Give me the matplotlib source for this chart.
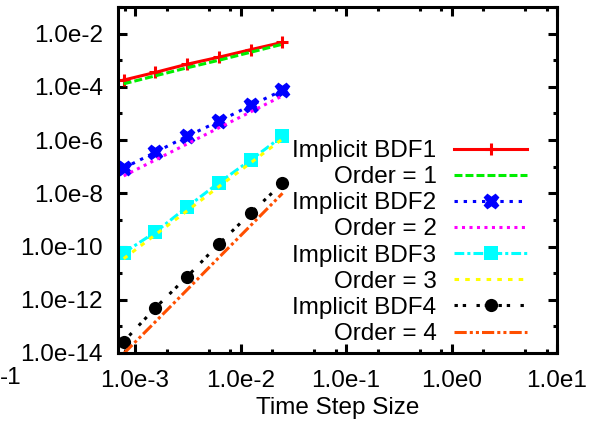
import matplotlib
matplotlib.use('Agg')
import matplotlib.pyplot as plt
from matplotlib.ticker import FixedLocator, NullFormatter, FixedFormatter

plt.rcParams['font.family'] = ['Liberation Sans', 'DejaVu Sans']

# ---- data ----
dt = [0.00078125, 0.0015625, 0.003125, 0.00625, 0.0125, 0.025]
bdf1 = [1.8e-4, 3.5e-4, 7.1e-4, 1.3e-3, 2.5e-3, 4.7e-3]
order1 = [1.3e-4, 2.6e-4, 5.2e-4, 1.0e-3, 2.0e-3, 4.0e-3]
bdf2 = [8.9e-8, 3.5e-7, 1.4e-6, 5.1e-6, 2.0e-5, 7.4e-5]
order2 = [4.5e-8, 1.8e-7, 7.2e-7, 2.9e-6, 1.15e-5, 4.6e-5]
bdf3 = [5.8e-11, 3.5e-10, 3.1e-9, 2.5e-8, 1.8e-7, 1.4e-6]
order3 = [3.5e-11, 2.8e-10, 2.2e-9, 1.8e-8, 1.4e-7, 1.1e-6]
bdf4 = [2.7e-14, 5.0e-13, 7.4e-12, 1.26e-10, 1.8e-9, 2.4e-8]
order4 = [9.5e-15, 1.5e-13, 2.4e-12, 3.9e-11, 6.2e-10, 1.0e-8]

series_labels = ['Implicit BDF1', 'Order = 1', 'Implicit BDF2', 'Order = 2',
                 'Implicit BDF3', 'Order = 3', 'Implicit BDF4', 'Order = 4']

xticks = [1e-3, 1e-2, 1e-1, 1e0, 1e1]
xticklabels = ['1.0e-3', '1.0e-2', '1.0e-1', '1.0e0', '1.0e1']
xminor = [m * 10.0 ** e for e in range(-4, 1) for m in (2, 5, 8)]
yticks = [1e-14, 1e-12, 1e-10, 1e-8, 1e-6, 1e-4, 1e-2]
yticklabels = ['1.0e-14', '1.0e-12', '1.0e-10', '1.0e-8', '1.0e-6', '1.0e-4', '1.0e-2']
yminor = [1e-13, 1e-11, 1e-9, 1e-7, 1e-5, 1e-3, 1e-1]

FS = 17.5
LW = 2.2

fig = plt.figure(figsize=(6.0, 4.32), dpi=100)
ax = fig.add_axes([118 / 600, 1 - 353 / 432, (557 - 118) / 600, (353 - 7) / 432])
ax.set_xscale('log')
ax.set_yscale('log')

styles = [
    (bdf1, dict(color='#ff0000', ls='-', marker='+', ms=9, mew=LW)),
    (order1, dict(color='#00ee00', ls=(0, (2.6, 1.0)))),
    (bdf2, dict(color='#0000ff', ls=(0, (1.1, 1.9)), marker='X', ms=10.5, mew=1.0)),
    (order2, dict(color='#ff00ff', ls=(0, (1.0, 1.45)))),
    (bdf3, dict(color='#00ffff', ls=(0, (3.2, 1.0, 1.0, 1.0)), marker='s', ms=9.5, mew=0)),
    (order3, dict(color='#ffff00', ls=(0, (1.5, 2.0)))),
    (bdf4, dict(color='#000000', ls=(0, (1.1, 1.6, 1.1, 3.4)), marker='o', ms=9.5, mew=0)),
    (order4, dict(color='#ff4f00', ls=(0, (4.0, 1.0, 1.0, 1.0, 1.0, 1.0)))),
]
for (vals, st), lab in zip(styles, series_labels):
    ax.plot(dt, vals, lw=LW, label=lab, dash_capstyle='butt', **st)

ax.set_xlim(6.9e-4, 10.0)
ax.set_ylim(1e-14, 1e-1)

ax.xaxis.set_major_locator(FixedLocator(xticks))
ax.xaxis.set_major_formatter(FixedFormatter(xticklabels))
ax.xaxis.set_minor_locator(FixedLocator(xminor))
ax.xaxis.set_minor_formatter(NullFormatter())
ax.yaxis.set_major_locator(FixedLocator(yticks))
ax.yaxis.set_major_formatter(FixedFormatter(yticklabels))
ax.yaxis.set_minor_locator(FixedLocator(yminor))
ax.yaxis.set_minor_formatter(NullFormatter())

ax.tick_params(which='both', direction='in', top=True, right=True, width=LW,
               labelsize=FS, color='black')
ax.tick_params(which='major', length=6.5)
ax.tick_params(which='minor', length=3.2)
ax.tick_params(axis='x', which='major', pad=12)
ax.tick_params(axis='y', which='major', pad=11)
for sp in ax.spines.values():
    sp.set_linewidth(LW)

ax.set_xlabel('Time Step Size', fontsize=FS, labelpad=4)

leg = ax.legend(loc='upper right', bbox_to_anchor=(527 / 600, 1 - 140 / 432),
                bbox_transform=fig.transFigure, frameon=False, markerfirst=False,
                fontsize=FS, numpoints=1, handlelength=3.0, handletextpad=0.72,
                labelspacing=0.17, borderpad=0, borderaxespad=0)

fig.text(0.0, 1 - 378 / 432, '-1', ha='left', va='center', fontsize=FS)

fig.savefig('out.png', dpi=100)
